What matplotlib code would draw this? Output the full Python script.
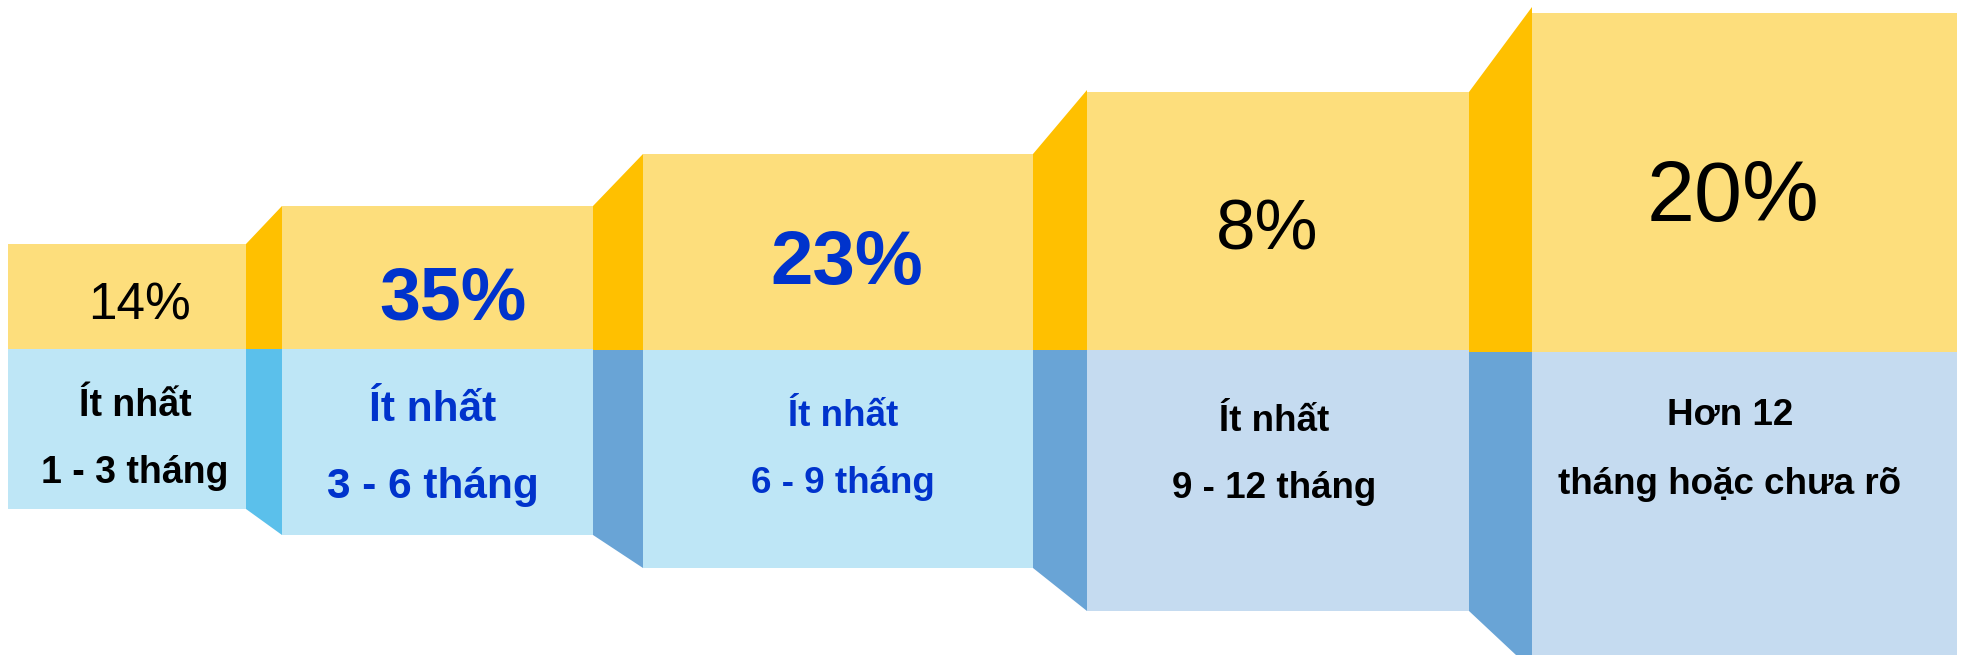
import matplotlib.pyplot as plt
from matplotlib.patches import Polygon

# share of respondents per duration bucket
shares = [14, 35, 23, 8, 20]
line1 = ["Ít nhất", "Ít nhất", "Ít nhất", "Ít nhất", "Hơn 12"]
line2 = ["1 - 3 tháng", "3 - 6 tháng", "6 - 9 tháng", "9 - 12 tháng", "tháng hoặc chưa rõ"]

# staircase layout, in pixels (y grows downwards)
left = [8, 282, 643, 1087, 1532]
right = [246, 593, 1033, 1469, 1957]
top = [244, 206, 154, 92, 13]
mid = [349, 349, 350, 350, 352]
bottom = [509, 535, 568, 611, 670]
peak = [206, 154, 90, 7]          # upper right corner of each connector

YELLOW = "#FDDE7C"
ORANGE = "#FFC000"
BLUE_TXT = "#0033CC"
low_face = ["#BEE6F6", "#BEE6F6", "#BEE6F6", "#C5DBF0", "#C5DBF0"]
side_face = ["#5BC0EB", "#69A4D6", "#69A4D6", "#69A4D6"]
txt_color = ["black", BLUE_TXT, BLUE_TXT, "black", "black"]
pct_bold = [False, True, True, False, False]
pct_size = [37, 53, 55, 51, 62]
pct_x = [140, 453, 847, 1267, 1733]
pct_base = [320, 319, 284, 249, 221]
lab_size = [27, 30.5, 26.5, 26.5, 26.5]
lab_x = [135, 433, 843, 1274, 1730]
lab_base1 = [416, 421, 426, 431, 425]
lab_base2 = [483, 498, 493, 498, 494]

W, H = 1964, 655
fig = plt.figure(figsize=(W / 100, H / 100), dpi=100)
ax = fig.add_axes([0, 0, 1, 1])
ax.set_xlim(0, W)
ax.set_ylim(H, 0)
ax.axis("off")

# side faces joining each step to the next
for i in range(4):
    xa, xb = right[i], left[i + 1]
    ax.add_patch(Polygon([(xa, top[i]), (xb, peak[i]), (xb, mid[i + 1]), (xa, mid[i + 1])],
                         closed=True, fc=ORANGE, ec="none"))
    ax.add_patch(Polygon([(xa, mid[i + 1]), (xb, mid[i + 1]), (xb, bottom[i + 1]), (xa, bottom[i])],
                         closed=True, fc=side_face[i], ec="none"))

# front faces
for i in range(5):
    ax.add_patch(Polygon([(left[i], top[i]), (right[i], top[i]), (right[i], mid[i]), (left[i], mid[i])],
                         closed=True, fc=YELLOW, ec="none"))
    ax.add_patch(Polygon([(left[i], mid[i]), (right[i], mid[i]), (right[i], bottom[i]), (left[i], bottom[i])],
                         closed=True, fc=low_face[i], ec="none"))

font = "Liberation Sans"
for i, v in enumerate(shares):
    ax.text(pct_x[i], pct_base[i], f"{v}%", ha="center", va="baseline", family=font,
            fontsize=pct_size[i], fontweight="bold" if pct_bold[i] else "normal",
            color=txt_color[i])
    ax.text(lab_x[i], lab_base1[i], line1[i], ha="center", va="baseline", family=font,
            fontsize=lab_size[i], fontweight="bold", color=txt_color[i])
    ax.text(lab_x[i], lab_base2[i], line2[i], ha="center", va="baseline", family=font,
            fontsize=lab_size[i], fontweight="bold", color=txt_color[i])

fig.savefig("out.png", dpi=100, facecolor="white")
